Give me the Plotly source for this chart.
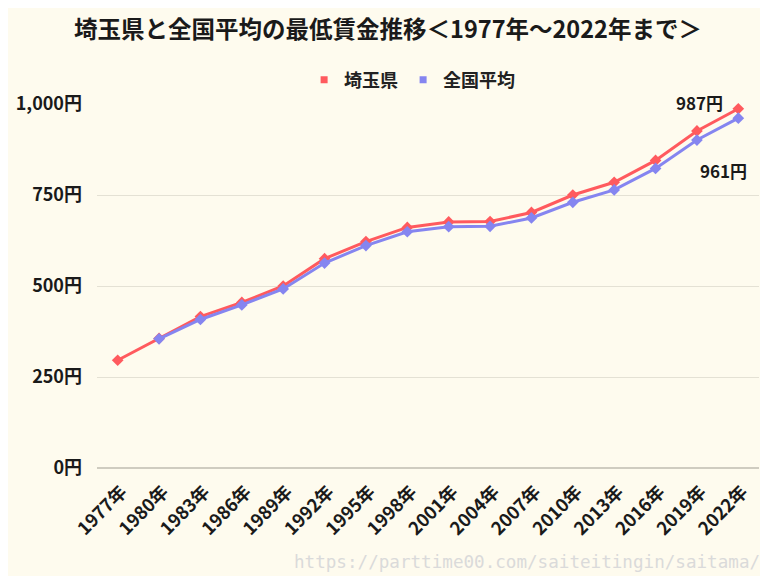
import plotly.graph_objects as go

years = ["1977年", "1980年", "1983年", "1986年", "1989年", "1992年", "1995年", "1998年",
         "2001年", "2004年", "2007年", "2010年", "2013年", "2016年", "2019年", "2022年"]
saitama = [296, 356, 416, 455, 500, 575, 622, 661, 676, 677, 702, 750, 785, 845, 926, 987]
national = [None, 355, 408, 448, 492, 563, 611, 649, 663, 664, 687, 730, 764, 823, 901, 961]
y_ticks = [0, 250, 500, 750, 1000]
y_tick_labels = ["0円", "250円", "500円", "750円", "1,000円"]

RED = "#FF5A5E"
BLUE = "#8585F0"
BG = "#FEFBEE"
TXT = "#1a1a1a"
FONT = "Noto Sans CJK JP"

# The page body has an 8px margin, so the figure is drawn 760x568 at offset (8, 8).
W, H = 760, 568

fig = go.Figure()
fig.add_trace(go.Scatter(
    x=years, y=saitama, name="埼玉県", mode="lines+markers", showlegend=False,
    line=dict(color=RED, width=3), marker=dict(symbol="diamond", size=9, color=RED),
    cliponaxis=False,
))
fig.add_trace(go.Scatter(
    x=years, y=national, name="全国平均", mode="lines+markers", showlegend=False,
    line=dict(color=BLUE, width=3), marker=dict(symbol="diamond", size=9, color=BLUE),
    cliponaxis=False,
))
# legend entries (square swatches, as in the reference)
for name, col in (("埼玉県", RED), ("全国平均", BLUE)):
    fig.add_trace(go.Scatter(x=[None], y=[None], name=name, mode="markers",
                             marker=dict(symbol="square", size=7, color=col)))

fig.add_annotation(x=years[-1], y=saitama[-1], text="987円", showarrow=False,
                   xanchor="right", yanchor="middle", xshift=-13, yshift=6,
                   font=dict(family=FONT, size=17, color=TXT, weight="bold"))
fig.add_annotation(x=years[-1], y=national[-1], text="961円", showarrow=False,
                   xanchor="right", yanchor="middle", xshift=11, yshift=-52,
                   font=dict(family=FONT, size=17, color=TXT, weight="bold"))

fig.add_annotation(xref="paper", yref="paper", x=1.005, y=-0.258, xanchor="right",
                   yanchor="middle", showarrow=False,
                   text="https://parttime00.com/saiteitingin/saitama/",
                   font=dict(family="DejaVu Sans Mono", size=17.6, color="#DADADA"))

fig.update_layout(
    width=W, height=H,
    paper_bgcolor=BG, plot_bgcolor=BG,
    margin=dict(l=89, r=9, t=96, b=108),
    title=dict(text="埼玉県と全国平均の最低賃金推移＜1977年～2022年まで＞",
               x=0.5, xanchor="center", y=1 - 22 / H, yanchor="middle",
               font=dict(family=FONT, size=23.5, color=TXT, weight="bold")),
    legend=dict(orientation="h", x=0.476, xanchor="center", y=1.066, yanchor="middle",
                font=dict(family=FONT, size=18, color="#222", weight="bold"),
                bgcolor="rgba(0,0,0,0)", itemwidth=30),
)
fig.update_xaxes(
    type="category", range=[-0.5, len(years) - 0.5], showgrid=False, showline=False,
    zeroline=False, tickangle=-45, ticks="", ticklabelstandoff=9, ticklabelshift=4,
    tickfont=dict(family=FONT, size=18, color=TXT, weight="bold"),
)
fig.update_yaxes(
    range=[0, 1000], tickvals=y_ticks, ticktext=y_tick_labels,
    showgrid=True, gridcolor="#E4E1D4", gridwidth=1, zeroline=True,
    zerolinecolor="#CFCCC0", zerolinewidth=1.5, showline=False, ticks="",
    ticklabelstandoff=14,
    tickfont=dict(family=FONT, size=18, color=TXT, weight="bold"),
)

fig.write_html("out.html")
